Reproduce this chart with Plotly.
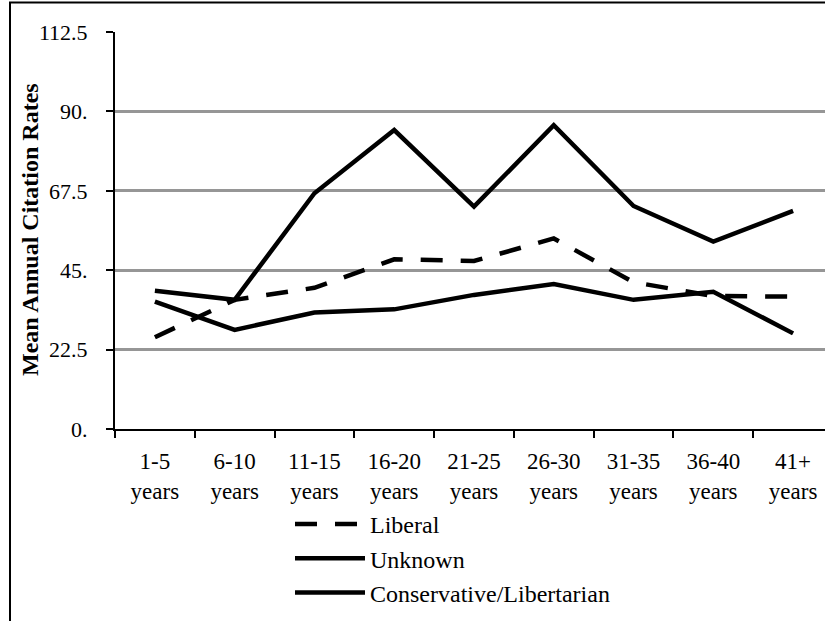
import plotly.graph_objects as go

categories = ["1-5<br>years", "6-10<br>years", "11-15<br>years", "16-20<br>years",
              "21-25<br>years", "26-30<br>years", "31-35<br>years", "36-40<br>years",
              "41+<br>years"]
liberal = [26.0, 36.6, 40.0, 48.1, 47.6, 54.0, 41.6, 37.7, 37.5]
unknown = [39.2, 36.6, 66.8, 84.7, 63.0, 86.1, 63.2, 53.1, 61.8]
conservative = [36.1, 28.1, 33.0, 33.9, 38.0, 41.1, 36.6, 38.9, 27.1]
y_tickvals = [0, 22.5, 45, 67.5, 90, 112.5]
y_ticktext = ["0.", "22.5", "45.", "67.5", "90.", "112.5"]

FONT = "Liberation Serif"
W, H = 825, 621
ML, MT, MB = 115, 32, 192
PW = W - ML
PH = H - MT - MB

fig = go.Figure()
fig.add_trace(go.Scatter(x=categories, y=liberal, name="Liberal", mode="lines",
                         line=dict(color="black", width=4.5, dash="22px,18px"),
                         legendgroup="a"))
fig.add_trace(go.Scatter(x=categories, y=unknown, name="Unknown", mode="lines",
                         line=dict(color="black", width=4.5), legendgroup="b"))
fig.add_trace(go.Scatter(x=categories, y=conservative, name="Conservative/Libertarian",
                         mode="lines", line=dict(color="black", width=4.5),
                         legendgroup="c"))

def px_x(p):
    return (p - ML) / PW

def px_y(p):
    return (H - MB - p) / PH

fig.update_layout(
    width=W, height=H,
    margin=dict(l=ML, r=0, t=MT, b=MB, autoexpand=False),
    paper_bgcolor="white", plot_bgcolor="white",
    font=dict(family=FONT, size=23, color="black"),
    hovermode=False,
    showlegend=True,
    legend=dict(x=px_x(290), y=px_y(502), xanchor="left", yanchor="top",
                font=dict(family=FONT, size=24, color="black"),
                itemwidth=70,
                tracegroupgap=0, bgcolor="rgba(0,0,0,0)",
                traceorder="normal"),
    xaxis=dict(type="category", range=[-0.5, 8.4], tickson="boundaries",
               ticks="outside", ticklen=7, tickwidth=2, tickcolor="black",
               showline=True, linecolor="black", linewidth=2,
               showgrid=False, zeroline=False, ticklabelstandoff=10,
               tickfont=dict(family=FONT, size=23, color="black")),
    yaxis=dict(range=[0, 112.5], tickvals=y_tickvals, ticktext=y_ticktext,
               ticks="outside", ticklen=7, tickwidth=2, tickcolor="black",
               showline=True, linecolor="black", linewidth=2,
               showgrid=True, gridcolor="#969696", gridwidth=2.5,
               zeroline=False, ticklabelstandoff=14,
               tickfont=dict(family=FONT, size=22, color="black")),
    annotations=[dict(text="<b>Mean Annual Citation Rates</b>", textangle=-90,
                      xref="paper", yref="paper", x=px_x(30), y=px_y(230),
                      xanchor="center", yanchor="middle", showarrow=False,
                      font=dict(family=FONT, size=24, color="black"))],
    shapes=[dict(type="rect", xref="paper", yref="paper",
                 x0=px_x(10), x1=px_x(900), y0=px_y(700), y1=px_y(2.5),
                 line=dict(color="black", width=2), fillcolor="rgba(0,0,0,0)",
                 layer="below")],
)

fig.write_html("out.html", config={"displayModeBar": False},
               post_script="document.body.style.margin='0';document.body.style.overflow='hidden';")
